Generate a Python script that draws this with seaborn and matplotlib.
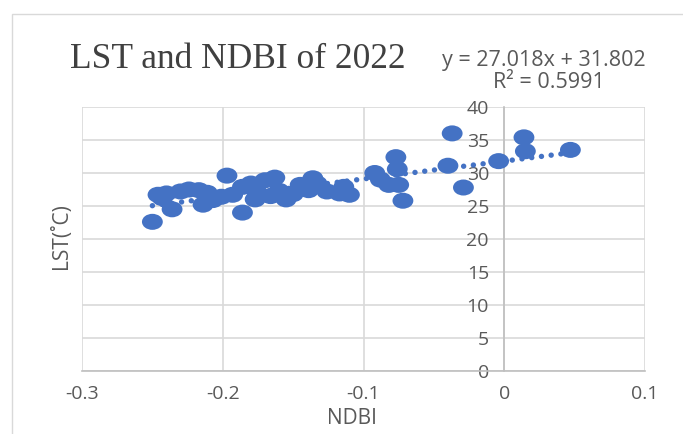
import numpy as np
import pandas as pd
import matplotlib
matplotlib.use("Agg")
import matplotlib.pyplot as plt
from matplotlib.path import Path
from matplotlib.patches import Rectangle
import seaborn as sns

# NDBI / LST sample points for 2022
ndbi = [-0.250, -0.236, -0.246, -0.240, -0.243, -0.230, -0.224, -0.217, -0.211,
        -0.214, -0.207, -0.201, -0.193, -0.197, -0.186, -0.186, -0.180, -0.177,
        -0.176, -0.170, -0.163, -0.166, -0.160, -0.155, -0.145, -0.136, -0.133,
        -0.139, -0.126, -0.117, -0.114, -0.110, -0.150,
        -0.092, -0.088, -0.082, -0.077, -0.076, -0.075, -0.072, -0.040, -0.037,
        -0.029, -0.004, 0.014, 0.015, 0.047]
lst = [22.6, 24.5, 26.7, 26.9, 26.2, 27.2, 27.5, 27.4, 27.0,
       25.2, 25.9, 26.4, 26.7, 29.6, 24.0, 27.9, 28.4, 26.0,
       27.2, 28.9, 29.3, 26.5, 27.3, 26.0, 28.2, 29.2, 28.4,
       27.4, 27.2, 26.9, 27.9, 26.7, 26.8,
       30.0, 29.0, 28.2, 32.4, 30.6, 28.2, 25.8, 31.1, 36.0,
       27.8, 31.8, 35.4, 33.3, 33.5]

# linear trendline
slope = 27.018
intercept = 31.802
r_squared = 0.5991

x_ticks = [-0.3, -0.2, -0.1, 0, 0.1]
x_tick_labels = ["-0.3", "-0.2", "-0.1", "0", "0.1"]
y_ticks = [0, 5, 10, 15, 20, 25, 30, 35, 40]

df = pd.DataFrame({"NDBI": ndbi, "LST": lst})

BLUE = "#4472C4"
GRID = "#D9D9D9"
AXIS = "#BFBFBF"
TEXT = "#595959"

sns.set_style("white")
plt.rcParams["font.family"] = ["Open Sans", "DejaVu Sans"]

fig = plt.figure(figsize=(6.83, 4.34), dpi=100)
W, H = 683, 434
ax = fig.add_axes([82 / W, 1 - 371 / H, (645 - 82) / W, (371 - 107) / H])

# slightly wide oval marker
circ = Path.unit_circle()
oval = Path(circ.vertices * np.array([1.3, 1.0]), circ.codes)

xs = np.array([min(ndbi), max(ndbi)])
ax.plot(xs, slope * xs + intercept, color=BLUE, lw=3.9,
        ls=(0, (0.01, 1.8)), dash_capstyle="round", zorder=2)

sns.scatterplot(data=df, x="NDBI", y="LST", ax=ax, marker=oval, s=15 ** 2,
                color=BLUE, edgecolor="none", linewidth=0, zorder=3, legend=False)

ax.set_xlim(-0.3, 0.1)
ax.set_ylim(0, 40)
ax.set_xticks(x_ticks)
ax.set_xticklabels(x_tick_labels)
ax.set_yticks(y_ticks)

ax.grid(True, color=GRID, lw=1.2, zorder=0)
ax.set_axisbelow(True)
for side in ["top", "right"]:
    ax.spines[side].set_visible(False)
ax.spines["left"].set_position(("data", 0))
ax.spines["left"].set_color(AXIS)
ax.spines["left"].set_linewidth(1.2)
ax.spines["bottom"].set_color(AXIS)
ax.spines["bottom"].set_linewidth(1.2)

ax.tick_params(axis="y", length=0, pad=11, labelsize=14, labelcolor=TEXT)
ax.tick_params(axis="x", length=0, pad=10, labelsize=14, labelcolor=TEXT)

ax.set_xlabel("")
ax.set_ylabel("")
fig.text(352 / W, 1 - 419 / H, "NDBI", ha="center", va="center",
         fontsize=15, color=TEXT)
fig.text(62 / W, 1 - 236 / H, "LST(˚C)", ha="center", va="center",
         rotation=90, fontsize=15, color=TEXT)

fig.text(70 / W, 1 - 68 / H, "LST and NDBI of 2022", ha="left", va="baseline",
         fontsize=25.5, color="#404040", family=["Liberation Serif", "DejaVu Serif"])
fig.text(544 / W, 1 - 60 / H, f"y = {slope:.3f}x + {intercept:.3f}",
         ha="center", va="center", fontsize=15.5, color=TEXT)
fig.text(549 / W, 1 - 83 / H, f"R² = {r_squared:.4f}",
         ha="center", va="center", fontsize=15.5, color=TEXT)

# chart area border
fig.add_artist(Rectangle((12 / W, -0.1), 1.2, 1 - 14 / H + 0.1,
                         transform=fig.transFigure, fill=False,
                         edgecolor=GRID, lw=1.0))

fig.savefig("out.png", dpi=100, facecolor="white")
